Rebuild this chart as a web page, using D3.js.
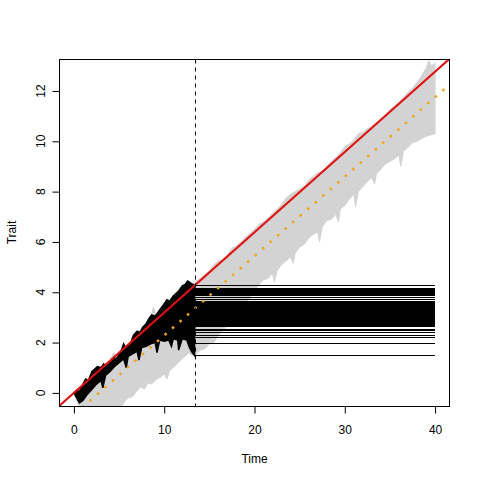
<!DOCTYPE html>
<html>
<head>
<meta charset="utf-8">
<script src="https://cdn.jsdelivr.net/npm/d3@7"></script>
<style>
  body { margin: 0; background: #fff; }
  text { font-family: "Liberation Sans", Arial, sans-serif; font-size: 12px; fill: #000; }
</style>
</head>
<body>
<div class="chart"></div>
<script>
var w = 480;
var h = 480;

// axis ticks
var xTicks = [0, 10, 20, 30, 40];
var yTicks = [0, 2, 4, 6, 8, 10, 12];

// grey simulations, outline as [time, trait]
var greyUpper = [[0,0],[1,0.35],[2,0.7],[3,1.0],[4,1.3],[4.4,1.6],[4.8,1.45],[6,1.95],[7,2.3],[8,2.6],[8.5,2.9],[8.8,3.4],[9.2,3.0],[10,3.25],[11,3.55],[12,3.9],[13,4.2],[13.5,4.45],[14,4.55],[14.5,4.7],[15,4.85],[15.5,5.1],[16,5.25],[16.5,5.3],[17,5.5],[17.5,5.75],[18,5.85],[18.5,6.0],[19,6.2],[19.5,6.35],[20,6.5],[20.5,6.7],[21,6.8],[21.5,6.95],[22,7.15],[22.5,7.3],[23,7.5],[23.5,7.75],[24,7.9],[24.5,8.0],[25,8.1],[25.5,8.2],[26,8.45],[26.5,8.6],[27,8.75],[27.5,8.8],[28,9.0],[28.5,9.2],[29,9.35],[29.5,9.55],[30,9.8],[30.5,9.9],[31,10.05],[31.5,10.3],[32,10.35],[32.5,10.5],[33,10.6],[33.5,10.75],[34,10.9],[34.5,11.05],[35,11.25],[35.5,11.4],[36,11.55],[36.5,11.75],[37,11.95],[37.5,12.1],[38,12.35],[38.5,12.6],[39,12.9],[39.3,13.2],[39.6,13.0],[40,13.1]];
var greyLower = [[0,0],[0.3,-0.3],[0.6,-0.6],[5.2,-0.6],[5.6,-0.35],[6,-0.2],[6.5,-0.15],[7,0.1],[7.4,0.24],[7.8,0.15],[8.2,0.4],[8.6,0.35],[9,0.5],[9.6,0.63],[10,0.75],[10.3,0.55],[10.6,0.9],[11,1.0],[11.4,1.15],[11.8,1.3],[12.3,1.45],[12.7,1.6],[13,1.5],[13.5,1.55],[14,1.7],[14.5,1.75],[15,1.95],[15.5,2.0],[16,2.3],[16.5,2.5],[17,2.65],[17.5,2.9],[18,3.1],[18.5,3.25],[19,3.55],[19.5,3.8],[20,4.1],[20.5,4.3],[21,4.5],[21.5,4.55],[22,4.75],[22.2,4.4],[22.5,4.85],[23,5.1],[23.5,5.25],[24,5.4],[24.3,5.15],[24.5,5.55],[25,5.8],[25.5,5.9],[26,6.15],[26.5,6.3],[27,6.4],[27.2,6.0],[27.5,6.6],[28,6.85],[28.5,6.9],[29,7.1],[29.3,6.8],[29.5,7.3],[30,7.45],[30.5,7.7],[31,7.9],[31.2,7.4],[31.5,8.0],[32,8.2],[32.5,8.4],[33,8.55],[33.3,8.3],[33.5,8.7],[34,8.9],[34.5,9.1],[35,9.2],[35.5,9.3],[36,9.45],[36.2,9.0],[36.5,9.6],[37,9.75],[37.5,9.95],[38,10.0],[38.5,10.1],[39,10.2],[39.5,10.25],[40,10.3]];

// black lineages up to the split time
var blackUpper = [[0,0],[0.3,0.1],[0.6,0.05],[1,0.35],[1.3,0.55],[1.6,0.5],[2,0.85],[2.3,0.95],[2.6,1.05],[3,1.0],[3.3,1.15],[3.6,1.05],[4,1.2],[4.4,1.35],[4.8,1.4],[5.2,1.65],[5.5,1.95],[5.8,1.75],[6,1.9],[6.3,2.0],[6.6,2.3],[7,2.45],[7.3,2.4],[7.6,2.6],[8,2.75],[8.3,2.95],[8.6,3.1],[9,3.05],[9.3,3.2],[9.6,3.35],[10,3.55],[10.3,3.7],[10.6,3.65],[11,3.85],[11.3,3.95],[11.6,4.05],[12,4.25],[12.3,4.3],[12.6,4.45],[13,4.35],[13.36,4.28]];
var blackLower = [[0,0],[0.3,-0.2],[0.6,-0.4],[1,-0.3],[1.5,-0.05],[2,0.15],[2.5,0.35],[3,0.5],[3.2,0.2],[3.5,0.7],[4,0.85],[4.5,1.05],[5,1.2],[5.5,1.35],[5.8,1.0],[6,1.45],[6.5,1.55],[7,1.65],[7.2,1.3],[7.5,1.8],[8,1.85],[8.5,1.95],[9,2.0],[9.2,1.6],[9.5,2.1],[10,2.05],[10.5,2.1],[10.8,1.85],[11,2.15],[11.5,2.1],[11.6,1.7],[12,2.15],[12.5,2.1],[12.8,1.8],[13.1,1.6],[13.36,1.48]];

// trait values held flat from the split to the end
var tipValues = [4.28, 4.16, 4.13, 4.10, 4.07, 4.04, 4.01, 3.98, 3.95, 3.92, 3.88, 3.80, 3.73, 3.65, 3.61, 3.58, 3.55, 3.52, 3.49, 3.46, 3.43, 3.40, 3.37, 3.34, 3.31, 3.28, 3.25, 3.22, 3.19, 3.16, 3.13, 3.10, 3.07, 3.04, 3.01, 2.98, 2.95, 2.92, 2.89, 2.86, 2.83, 2.80, 2.77, 2.74, 2.71, 2.68, 2.62, 2.54, 2.47, 2.39, 2.28, 2.19, 1.96, 1.48];

var splitTime = 13.36;
var endTime = 40;

// straight lines: [intercept, slope]
var redLine = [0, 0.3192];
var orangeLine = [-0.87, 0.3155];

var x = d3.scaleLinear().domain([-1.6, 41.6]).range([59.5, 449.5]);
var y = d3.scaleLinear().domain([-0.52, 13.27]).range([406, 59]);

var svg = d3.select(".chart")
    .append("svg")
    .attr("width", w)
    .attr("height", h);

svg.append("defs").append("clipPath")
    .attr("id", "plotclip")
  .append("rect")
    .attr("x", 59.5).attr("y", 59.5)
    .attr("width", 390).attr("height", 347);

var plot = svg.append("g").attr("clip-path", "url(#plotclip)");

var line = d3.line()
    .x(function (d) { return x(d[0]); })
    .y(function (d) { return y(d[1]); });

// grey band
plot.append("path")
    .attr("d", line(greyUpper.concat(greyLower.slice().reverse())) + "Z")
    .attr("fill", "#d3d3d3")
    .attr("stroke", "#d3d3d3")
    .attr("stroke-width", 1);

// black band
plot.append("path")
    .attr("d", line(blackUpper.concat(blackLower.slice().reverse())) + "Z")
    .attr("fill", "#000")
    .attr("stroke", "#000")
    .attr("stroke-width", 1.5);

// flat lines
plot.selectAll(".tip")
    .data(tipValues)
    .enter()
    .append("line")
    .attr("class", "tip")
    .attr("x1", x(splitTime))
    .attr("x2", x(endTime))
    .attr("y1", function (d) { return y(d); })
    .attr("y2", function (d) { return y(d); })
    .attr("stroke", "#000")
    .attr("stroke-width", 1)
    .attr("shape-rendering", "crispEdges");

// red trend
var xs = x.domain();
plot.append("line")
    .attr("x1", x(xs[0])).attr("y1", y(redLine[0] + redLine[1] * xs[0]))
    .attr("x2", x(xs[1])).attr("y2", y(redLine[0] + redLine[1] * xs[1]))
    .attr("stroke", "#e01010")
    .attr("stroke-width", 2);

// orange dotted
plot.append("line")
    .attr("x1", x(xs[0])).attr("y1", y(orangeLine[0] + orangeLine[1] * xs[0]))
    .attr("x2", x(xs[1])).attr("y2", y(orangeLine[0] + orangeLine[1] * xs[1]))
    .attr("stroke", "#eca51c")
    .attr("stroke-width", 2.5)
    .attr("stroke-dasharray", "2.5 7.5");

// split marker
svg.append("line")
    .attr("x1", Math.round(x(splitTime)) + 0.5)
    .attr("x2", Math.round(x(splitTime)) + 0.5)
    .attr("y1", 59.5)
    .attr("y2", 406.5)
    .attr("stroke", "#000")
    .attr("stroke-dasharray", "4 4");

// frame
svg.append("rect")
    .attr("x", 59.5).attr("y", 59.5)
    .attr("width", 390).attr("height", 347)
    .attr("fill", "none")
    .attr("stroke", "#000");

// x axis
var xAxis = svg.append("g")
    .attr("transform", "translate(0,406.5)")
    .call(d3.axisBottom(x).tickValues(xTicks).tickSize(7).tickPadding(11.5).tickFormat(d3.format("d")));
xAxis.select(".domain").remove();
xAxis.selectAll("text").style("font-size", "12px").attr("font-family", null);

// y axis
var yAxis = svg.append("g")
    .attr("transform", "translate(59.5,0)")
    .call(d3.axisLeft(y).tickValues(yTicks).tickSize(7).tickFormat(""));
yAxis.select(".domain").remove();

svg.selectAll(".ylab")
    .data(yTicks)
    .enter()
    .append("text")
    .attr("class", "ylab")
    .attr("transform", function (d) { return "translate(44.5," + y(d) + ") rotate(-90)"; })
    .attr("text-anchor", "middle")
    .text(function (d) { return d; });

// titles
svg.append("text")
    .attr("x", 254.5)
    .attr("y", 462.5)
    .attr("text-anchor", "middle")
    .text("Time");

svg.append("text")
    .attr("transform", "translate(15.5,232.5) rotate(-90)")
    .attr("text-anchor", "middle")
    .text("Trait");
</script>
</body>
</html>
